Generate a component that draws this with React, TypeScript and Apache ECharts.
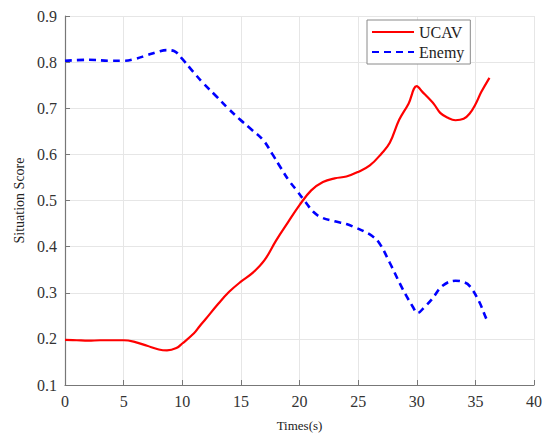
import React, { useEffect, useRef } from "react";
import * as echarts from "echarts";

const xTicks = [0, 5, 10, 15, 20, 25, 30, 35, 40];
const yTicks = [0.1, 0.2, 0.3, 0.4, 0.5, 0.6, 0.7, 0.8, 0.9];

const ucavData: [number, number][] = [
  [0, 0.198], [1, 0.197], [2, 0.196], [3, 0.197], [4, 0.197], [5, 0.197],
  [6, 0.193], [7, 0.185], [8, 0.177], [8.7, 0.175], [9.5, 0.18], [10, 0.19],
  [11, 0.212], [11.5, 0.228], [12, 0.243], [13, 0.274], [14, 0.302], [15, 0.324],
  [16, 0.343], [17, 0.37], [18, 0.413], [19, 0.452], [20, 0.49], [21, 0.522],
  [22, 0.54], [23, 0.548], [24, 0.552], [25, 0.562], [26, 0.576], [27, 0.602],
  [27.7, 0.625], [28.5, 0.675], [29.3, 0.71], [30, 0.748], [30.5, 0.735],
  [31, 0.722], [31.5, 0.708], [32, 0.69], [32.6, 0.68], [33.3, 0.674],
  [34, 0.677], [34.5, 0.688], [35, 0.708], [35.5, 0.735], [36.2, 0.766],
];

const enemyData: [number, number][] = [
  [0, 0.803], [2, 0.805], [4, 0.803], [5, 0.803], [6, 0.807], [7, 0.815],
  [8, 0.823], [8.7, 0.826], [9.3, 0.824], [10, 0.807], [10.9, 0.78],
  [11.8, 0.754], [12.9, 0.726], [13.9, 0.7], [14.9, 0.676], [15.9, 0.654],
  [16.9, 0.631], [17.7, 0.6], [18.4, 0.571], [19.1, 0.543], [19.7, 0.524],
  [20.5, 0.497], [21.2, 0.475], [21.9, 0.463], [23, 0.455], [24, 0.449],
  [24.8, 0.441], [25.5, 0.433], [26.2, 0.423], [26.8, 0.408], [27.7, 0.365],
  [28.8, 0.308], [29.7, 0.268], [30.05, 0.256], [30.7, 0.27], [31.3, 0.286],
  [32.2, 0.315], [33.3, 0.326], [34, 0.323], [34.5, 0.315], [35.3, 0.282],
  [36, 0.24], [36.2, 0.235],
];

const seriesNames = ["UCAV", "Enemy"];
const xLabel = "Times(s)";
const yLabel = "Situation Score";

export default function App() {
  const ref = useRef<HTMLDivElement>(null);
  useEffect(() => {
    if (!ref.current) return;
    const chart = echarts.init(ref.current, undefined, { renderer: "svg" });
    const font = "Liberation Serif";
    chart.setOption({
      animation: false,
      backgroundColor: "#ffffff",
      textStyle: { fontFamily: font },
      grid: { left: 65, right: 10, top: 16, bottom: 51 },
      legend: {
        orient: "vertical",
        left: 367,
        top: 20,
        backgroundColor: "#ffffff",
        borderColor: "#8a8a8a",
        borderWidth: 1,
        borderRadius: 0,
        padding: [4, 6, 4, 4],
        itemGap: 4,
        itemWidth: 42,
        itemHeight: 14,
        itemStyle: { opacity: 0 },
        textStyle: { fontFamily: font, fontSize: 16, color: "#222" },
        data: seriesNames,
      },
      xAxis: {
        type: "value",
        min: xTicks[0],
        max: xTicks[xTicks.length - 1],
        interval: 5,
        name: xLabel,
        nameLocation: "middle",
        nameGap: 34,
        nameTextStyle: { fontFamily: font, fontSize: 13, color: "#222" },
        axisLine: { show: true, lineStyle: { color: "#777", width: 1.2 } },
        axisTick: { show: true, inside: true, length: 5, lineStyle: { color: "#777" } },
        axisLabel: { fontFamily: font, fontSize: 16, color: "#333", margin: 8 },
        splitLine: { show: true, lineStyle: { color: "#e6e6e6", width: 1 } },
      },
      yAxis: {
        type: "value",
        min: yTicks[0],
        max: yTicks[yTicks.length - 1],
        interval: 0.1,
        name: yLabel,
        nameLocation: "middle",
        nameGap: 37,
        nameRotate: 90,
        nameTextStyle: { fontFamily: font, fontSize: 14, color: "#222" },
        axisLine: { show: true, lineStyle: { color: "#777", width: 1.2 } },
        axisTick: { show: true, inside: true, length: 5, lineStyle: { color: "#777" } },
        axisLabel: {
          fontFamily: font,
          fontSize: 16,
          color: "#333",
          margin: 8,
          formatter: (v: number) => v.toFixed(1),
        },
        splitLine: { show: true, lineStyle: { color: "#e6e6e6", width: 1 } },
      },
      series: [
        {
          name: seriesNames[0],
          type: "line",
          data: ucavData,
          smooth: 0.4,
          symbol: "none",
          lineStyle: { color: "#ff0000", width: 2.2 },
          itemStyle: { color: "#ff0000" },
        },
        {
          name: seriesNames[1],
          type: "line",
          data: enemyData,
          smooth: 0.4,
          symbol: "none",
          lineStyle: { color: "#0000ff", width: 2.6, type: [7, 5] },
          itemStyle: { color: "#0000ff" },
        },
      ],
    });
    return () => chart.dispose();
  }, []);
  return <div ref={ref} style={{ width: 545, height: 437, position: "absolute", left: 0, top: 0 }} />;
}
